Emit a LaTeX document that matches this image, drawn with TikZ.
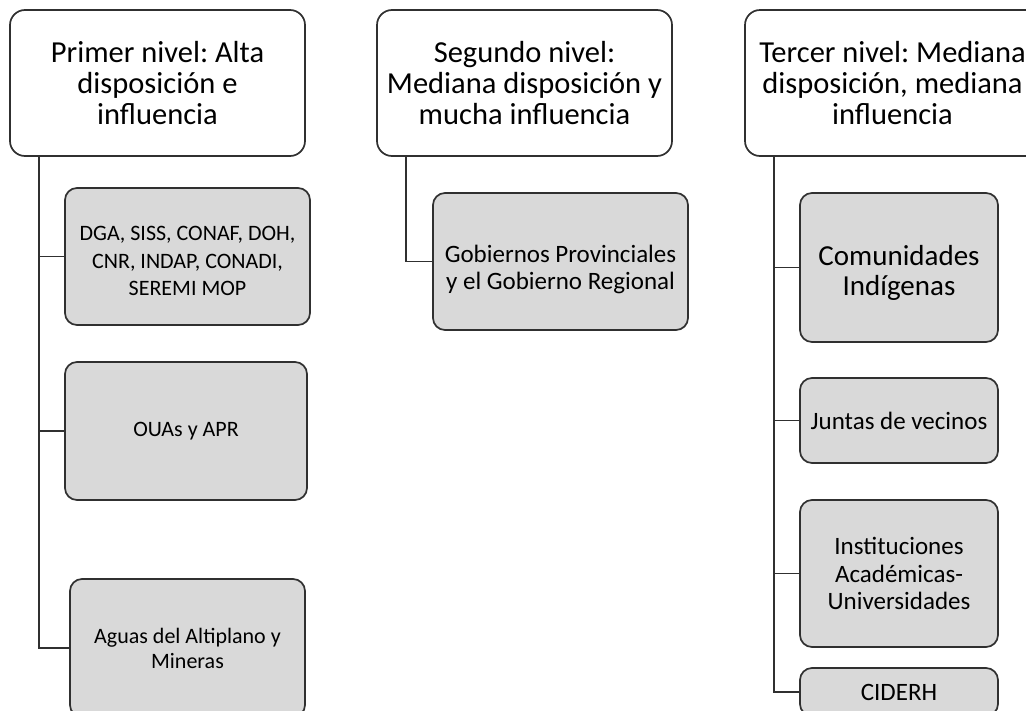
\documentclass[tikz,border=0pt]{standalone}
\usepackage{fontspec}
\setmainfont{Carlito}
\usepackage{xcolor}
\usepackage{tikz}
\definecolor{boxfill}{HTML}{D9D9D9}
\definecolor{boxline}{HTML}{303030}
\tikzstyle{level} = [rectangle, rounded corners=15pt, minimum width=295pt, minimum height=146pt, align=center, draw=boxline, line width=1.7pt, fill=white, inner sep=0pt, font=\fontsize{30.5}{31}\selectfont]
\tikzstyle{actor} = [rectangle, rounded corners=12pt, align=center, draw=boxline, line width=1.7pt, fill=boxfill, inner sep=0pt]
\tikzstyle{link} = [draw=boxline, line width=1.7pt]
\newcommand{\fs}[2]{\fontsize{#1}{#2}\selectfont}
% text block pushed down inside its box, box size kept
\newcommand{\lowered}[2]{\raisebox{-#1}[\height][\depth]{\begin{tabular}{@{}c@{}}#2\end{tabular}}}
\begin{document}
\frenchspacing
\begin{tikzpicture}[x=1pt, y=-1pt]
  \useasboundingbox (0,0) rectangle (1026,710);
  \clip (0,0) rectangle (1026,710);
  % ---------- level headers (row y=83) ----------
  \node[level] (lvA) at (157.5, 83) {Primer nivel: Alta\\disposición e\\influencia};
  \node[level] (lvB) at (524.5, 83) {Segundo nivel:\\Mediana disposición y\\mucha influencia};
  \node[level] (lvC) at (892.5, 83) {Tercer nivel: Mediana\\disposición, mediana\\influencia};
  % ---------- first level actors ----------
  \node[actor, minimum width=245pt, minimum height=137pt, font=\fs{22}{27.5}] (dga) at (187.5, 256.5) {\lowered{6pt}{DGA, SISS, CONAF, DOH,\\CNR, INDAP, CONADI,\\SEREMI MOP}};
  \node[actor, minimum width=242pt, minimum height=138pt, font=\fs{22}{27}] (oua) at (186, 431) {OUAs y APR};
  \node[actor, minimum width=235pt, minimum height=138pt, font=\fs{22}{25}] (agu) at (187.5, 648) {Aguas del Altiplano y\\Mineras};
  % ---------- second level actors ----------
  \node[actor, minimum width=255pt, minimum height=137pt, font=\fs{25}{27}] (gob) at (560.5, 261.5) {\lowered{9pt}{Gobiernos Provinciales\\y el Gobierno Regional}};
  % ---------- third level actors ----------
  \node[actor, minimum width=198pt, minimum height=149pt, font=\fs{29}{30}] (com) at (899, 267.5) {\lowered{7pt}{Comunidades\\Indígenas}};
  \node[actor, minimum width=198pt, minimum height=85pt, font=\fs{25}{27}] (jun) at (899, 420.5) {Juntas de vecinos};
  \node[actor, minimum width=198pt, minimum height=147pt, font=\fs{25}{27.5}] (uni) at (899, 573.5) {Instituciones\\Académicas-\\Universidades};
  \node[actor, minimum width=198pt, minimum height=48pt, font=\fs{25}{27}] (cid) at (899, 692) {CIDERH};
  % ---------- elbow connectors ----------
  \draw[link] ([xshift=30pt]lvA.south west) |- (dga.west);
  \draw[link] ([xshift=30pt]lvA.south west) |- (oua.west);
  \draw[link] ([xshift=30pt]lvA.south west) |- (agu.west);
  \draw[link] ([xshift=30pt]lvB.south west) |- (gob.west);
  \draw[link] ([xshift=30pt]lvC.south west) |- (com.west);
  \draw[link] ([xshift=30pt]lvC.south west) |- (jun.west);
  \draw[link] ([xshift=30pt]lvC.south west) |- (uni.west);
  \draw[link] ([xshift=30pt]lvC.south west) |- (cid.west);
\end{tikzpicture}
\end{document}
